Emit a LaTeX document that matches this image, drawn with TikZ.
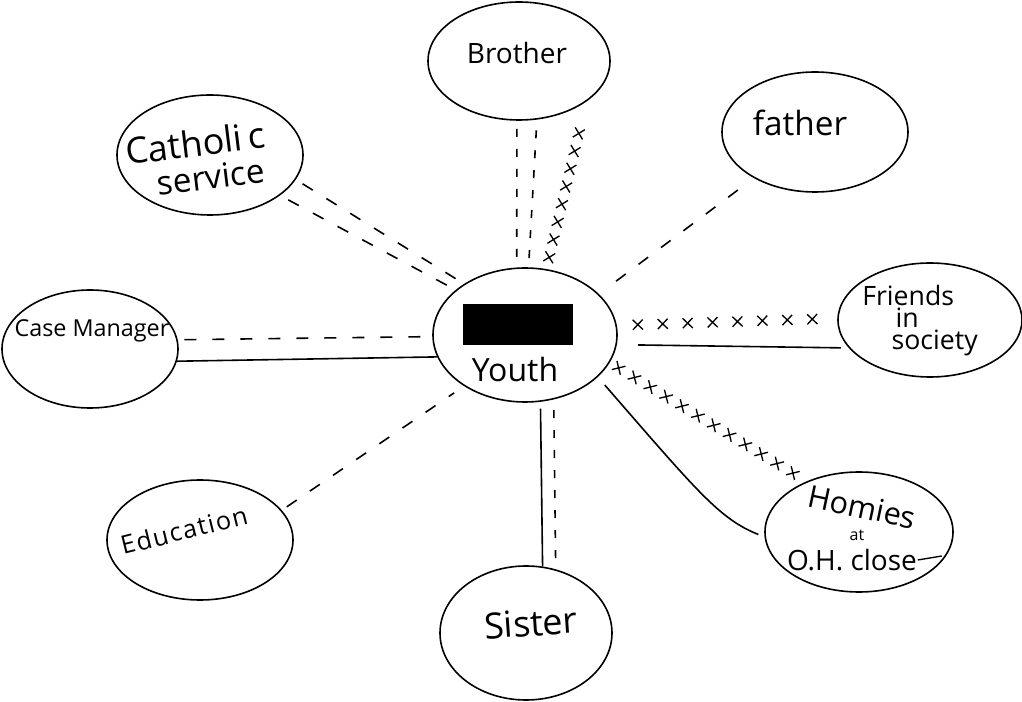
\documentclass[tikz,border=0pt]{standalone}
\usepackage{fontspec}
\setmainfont{Open Sans}
\usetikzlibrary{shapes.geometric,decorations.markings}

\tikzset{every picture/.style={line width=1.2pt}}
\tikzset{
  bubble/.style={ellipse, draw, inner sep=0pt},
  lbl/.style={inner sep=0pt, font=\fontsize{#1}{#1}\selectfont},
  dashline/.style={dash pattern=on 9pt off 12pt},
  shortdash/.style={dash pattern=on 6pt off 9pt},
  xline/.style={decoration={markings, mark=between positions #1 with {\draw[line width=1pt] (-5,-5) -- (5,5) (-5,5) -- (5,-5);}}, postaction={decorate}}
}

\begin{document}
\begin{tikzpicture}[x=0.75pt,y=0.75pt,yscale=-1,xscale=1]
\useasboundingbox (0,0) rectangle (1022,702);

% Ellipses
\node[bubble, minimum width=136.5pt, minimum height=88.5pt] (brother) at (519,61) {};
\node[bubble, minimum width=139.5pt, minimum height=90pt] (catholic) at (210,155) {};
\node[bubble, minimum width=139.5pt, minimum height=90pt] (father) at (815,132) {};
\node[bubble, minimum width=132pt, minimum height=88.5pt] (casemgr) at (90,349) {};
\node[bubble, minimum width=138pt, minimum height=100.5pt] (youth) at (525,335) {};
\node[bubble, minimum width=138pt, minimum height=85.5pt] (friends) at (930,320) {};
\node[bubble, minimum width=139.5pt, minimum height=90pt] (education) at (200,540) {};
\node[bubble, minimum width=129pt, minimum height=100.5pt] (sister) at (526,633) {};
\node[bubble, minimum width=141pt, minimum height=90pt] (homies) at (859,532) {};

% Text Node
\node[lbl=21] (brother-lbl) at (517,53) {Brother};
\node[lbl=27, rotate=7] (catholic-lbl) at (195,143) {Catholi\hspace{4pt}c};
\node[lbl=25, rotate=7] (service-lbl) at (211,177) {service};
\node[lbl=25] (father-lbl) at (800,123) {father};
\node[lbl=17.5] (casemgr-lbl) at (92,331) {Case Manager};
\node[fill=black, minimum width=82.5pt, minimum height=30.75pt, inner sep=0pt] (redact) at (518,325) {};
\node[lbl=24] (youth-lbl) at (515,370) {Youth};
\node[inner sep=0pt, align=left, font=\fontsize{20}{16.5}\selectfont] (friends-lbl) at (920,321) {Friends\\\hspace{25pt}in\\\hspace{22pt}society};
\node[inner sep=0pt, rotate=14, font=\fontsize{19}{19}\selectfont\addfontfeatures{LetterSpace=6}] (education-lbl) at (184,530) {Education};
\node[lbl=27, rotate=4] (sister-lbl) at (531,623) {Sister};
\node[lbl=23, rotate=-12] (homies-lbl) at (862,507) {Homies};
\node[lbl=12] (at-lbl) at (857,535) {at};
\node[lbl=21] (oh-lbl) at (852,560) {O.H. close};
\draw[line width=1pt] (oh-lbl.east) -- ++(24,-4);

%Straight Lines
% brother
\draw[shortdash, shorten <=6pt] (brother.268) -- (youth.97);
\draw[shortdash, shorten <=8pt, shorten >=4pt] (brother.287) -- (youth.87);
\path[xline=0.19 and 0.935 step 0.1057] (brother.329) -- (youth.72);
% catholic service
\draw[dashline, shorten <=6pt] (catholic.344) -- (youth.140);
\draw[dashline, shorten <=7pt] (catholic.330) -- (youth.147);
% case manager
\draw[dashline, shorten <=5pt, shorten >=4pt] (casemgr.6) -- (youth.181);
\draw (casemgr.352) -- (youth.194);
% father
\draw[dashline, shorten <=15pt, shorten >=8pt] (father.217) -- (youth.29);
% friends
\path[xline=0.095 and 0.89 step 0.1131] (youth.6) -- (friends.179);
\draw[shorten <=16pt, shorten >=6pt] (youth.354) -- (friends.199);
% homies
\path[xline=0.045 and 0.935 step 0.0805] (youth.342) -- (homies.136);
\draw[shorten <=8pt, shorten >=5pt] (youth.330) .. controls +(100,115) and +(-45,-18) .. (homies.183);
% sister
\draw[shorten <=5pt] (youth.283) -- (sister.76);
\draw[shortdash, shorten <=8pt, shorten >=4pt] (youth.294) -- (sister.65);
% education
\draw[dashline, shorten <=4.5pt, shorten >=9pt] (education.20) -- (youth.220);

\end{tikzpicture}
\end{document}
